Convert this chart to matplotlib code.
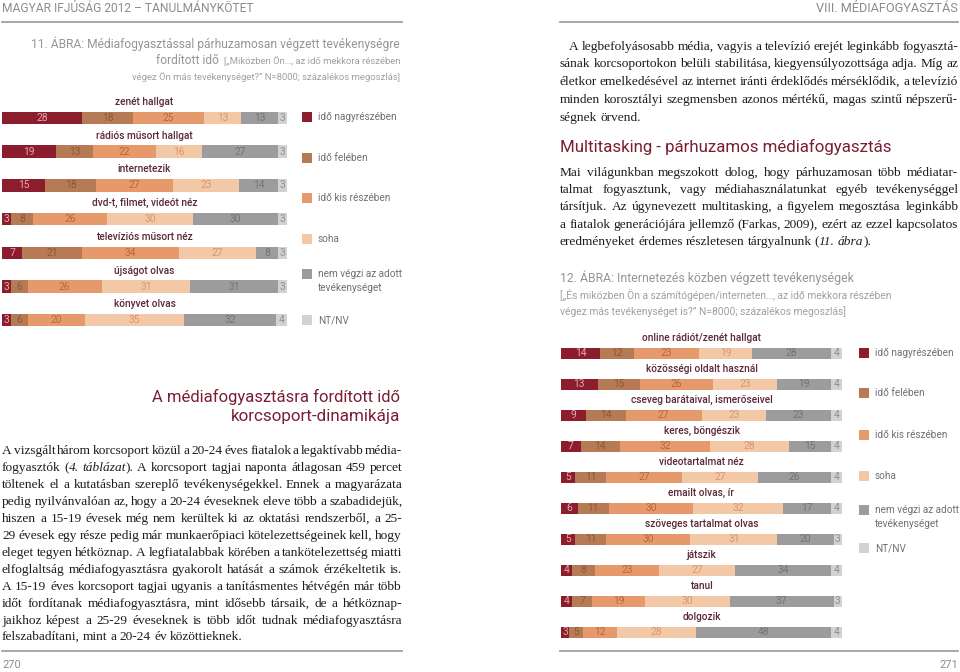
import matplotlib
matplotlib.use('Agg')
import matplotlib.pyplot as plt
from matplotlib.patches import Rectangle
from matplotlib.lines import Line2D
from matplotlib.textpath import TextToPath
from matplotlib.font_manager import FontProperties, fontManager, get_font
from matplotlib.backends.backend_agg import get_hinting_flag
import numpy as np

W, H = 960, 672
SANS = 'Roboto'
SERIF = 'Liberation Serif'

# answer categories shared by both charts
categories = ['idő nagyrészében', 'idő felében', 'idő kis részében', 'soha',
              'nem végzi az adott\ntevékenységet', 'NT/NV']
colors = ['#8c1d2d', '#b67a55', '#e6996a', '#f2c8a7', '#9c9c9e', '#d2d2d2']
num_colors = ['#e6a9ae', '#8d5838', '#b8683c', '#d9966a', '#747476', '#8f8f8f']

# 11. ábra
media_acts = ['zenét hallgat', 'rádiós műsort hallgat', 'internetezik',
              'dvd-t, filmet, videót néz', 'televíziós műsort néz',
              'újságot olvas', 'könyvet olvas']
media_most = [28, 19, 15, 3, 7, 3, 3]
media_half = [18, 13, 18, 8, 21, 6, 6]
media_small = [25, 22, 27, 26, 34, 26, 20]
media_never = [13, 16, 23, 30, 27, 31, 35]
media_notdo = [13, 27, 14, 30, 8, 31, 32]
media_na = [3, 3, 3, 3, 3, 3, 4]

# 12. ábra
net_acts = ['online rádiót/zenét hallgat', 'közösségi oldalt használ',
            'cseveg barátaival, ismerőseivel', 'keres, böngészik',
            'videotartalmat néz', 'emailt olvas, ír', 'szöveges tartalmat olvas',
            'játszik', 'tanul', 'dolgozik']
net_most = [14, 13, 9, 7, 5, 6, 5, 4, 4, 3]
net_half = [12, 15, 14, 14, 11, 11, 11, 8, 7, 5]
net_small = [23, 26, 27, 32, 27, 30, 30, 23, 19, 12]
net_never = [19, 23, 23, 28, 27, 32, 31, 27, 30, 28]
net_notdo = [28, 19, 23, 15, 26, 17, 20, 34, 37, 48]
net_na = [4, 4, 4, 4, 4, 4, 3, 4, 3, 4]

# page text (*...* = italic)
text_left = [
    'A vizsgált három korcsoport közül a 20-24 éves fiatalok a legaktívabb média-',
    'fogyasztók (*4. táblázat*). A korcsoport tagjai naponta átlagosan 459 percet',
    'töltenek el a kutatásban szereplő tevékenységekkel. Ennek a magyarázata',
    'pedig nyilvánvalóan az, hogy a 20-24 éveseknek eleve több a szabadidejük,',
    'hiszen a 15-19 évesek még nem kerültek ki az oktatási rendszerből, a 25-',
    '29 évesek egy része pedig már munkaerőpiaci kötelezettségeinek kell, hogy',
    'eleget tegyen hétköznap. A legfiatalabbak körében a tankötelezettség miatti',
    'elfoglaltság médiafogyasztásra gyakorolt hatását a számok érzékeltetik is.',
    'A 15-19 éves korcsoport tagjai ugyanis a tanításmentes hétvégén már több',
    'időt fordítanak médiafogyasztásra, mint idősebb társaik, de a hétköznap-',
    'jaikhoz képest a 25-29 éveseknek is több időt tudnak médiafogyasztásra',
    'felszabadítani, mint a 20-24 év közöttieknek.',
]
text_right1 = [
    'A legbefolyásosabb média, vagyis a televízió erejét leginkább fogyasztá-',
    'sának korcsoportokon belüli stabilitása, kiegyensúlyozottsága adja. Míg az',
    'életkor emelkedésével az internet iránti érdeklődés mérséklődik, a televízió',
    'minden korosztályi szegmensben azonos mértékű, magas szintű népszerű-',
    'ségnek örvend.',
]
text_right2 = [
    'Mai világunkban megszokott dolog, hogy párhuzamosan több médiatar-',
    'talmat fogyasztunk, vagy médiahasználatunkat egyéb tevékenységgel',
    'társítjuk. Az úgynevezett multitasking, a figyelem megosztása leginkább',
    'a fiatalok generációjára jellemző (Farkas, 2009), ezért az ezzel kapcsolatos',
    'eredményeket érdemes részletesen tárgyalnunk (*11. ábra*).',
]

fig = plt.figure(figsize=(9.6, 6.72), dpi=100)
TTP = TextToPath()


def fx(x):
    return x / W


def fy(y):
    return 1 - y / H


def path_width(s, family, fs, italic=False):
    # width in pixels
    fp = FontProperties(family=family, size=fs, style='italic' if italic else 'normal')
    w, h, d = TTP.get_text_width_height_descent(s, fp, ismath=False)
    return w * 100 / 72


def baseline_y(s, fs, italic, ytop):
    # Agg rounds each text's bitmap on its own, so words of one line can land
    # a pixel apart; pick a y that puts every word on the same baseline row
    try:
        fp = FontProperties(family=SERIF, size=fs, style='italic' if italic else 'normal')
        font = get_font(fontManager._find_fonts_by_props(fp))
        font.clear()
        font.set_size(fs, 100)
        font.set_text(s, 0, flags=get_hinting_flag())
        w, h = font.get_width_height()
        d = font.get_descent()
    except Exception:
        return ytop
    target = int(round(ytop))
    y = target + 1 / 128
    for _ in range(3):
        row = round(y + d / 64) - h // 64 + (h - d) // 64
        if row == target:
            break
        y += target - row
    return y


def hline(x0, x1, y):
    fig.add_artist(Line2D([fx(x0), fx(x1)], [fy(y), fy(y)], transform=fig.transFigure,
                          color='#a0a0a0', lw=1.3))


def fit_text(x0, x1, y, s, color, ha='left'):
    fs = round(10 * (x1 - x0) / path_width(s, SANS, 10), 2)
    return fig.text(fx(x0 if ha == 'left' else x1), fy(y), s, fontsize=fs, family=SANS,
                    color=color, ha=ha, va='center')


def parse_words(line):
    words, cur, buf, it = [], [], '', False
    for ch in line + ' ':
        if ch == '*':
            if buf:
                cur.append((buf, it))
                buf = ''
            it = not it
        elif ch == ' ':
            if buf:
                cur.append((buf, it))
                buf = ''
            if cur:
                words.append(cur)
                cur = []
        else:
            buf += ch
    return words


def body_size(paras, fs0=10):
    sp = path_width('n n', SERIF, fs0) - path_width('nn', SERIF, fs0)
    best = fs0
    for lines, x0, x1, indent in paras:
        for li, line in enumerate(lines[:-1]):
            words = parse_words(line)
            nat = sum(path_width(s, SERIF, fs0, it) for w in words for s, it in w)
            nat += 0.6 * sp * (len(words) - 1)
            avail = x1 - x0 - (indent if li == 0 else 0)
            best = min(best, fs0 * avail / nat)
    return round(best, 1)


def paragraph(lines, x0, x1, y0, lh, fs, indent=0, color='#1c1c1c'):
    # justified text, one text per word
    sp = path_width('n n', SERIF, fs) - path_width('nn', SERIF, fs)
    for li, line in enumerate(lines):
        ytop = y0 + li * lh + 4.5
        left = x0 + (indent if li == 0 else 0)
        words = parse_words(line)
        widths = [[path_width(s, SERIF, fs, it) for s, it in w] for w in words]
        tot = sum(sum(ws) for ws in widths)
        if li == len(lines) - 1:
            gap = sp
        else:
            gap = (x1 - left - tot) / (len(words) - 1)
        x = left
        for w, ws in zip(words, widths):
            xx = x
            for (s, it), sw in zip(w, ws):
                fig.text(fx(xx), fy(baseline_y(s, fs, it, ytop)), s, fontsize=fs,
                         family=SERIF, color=color, style='italic' if it else 'normal',
                         va='baseline')
                xx += sw
            x += sum(ws) + gap


def stacked(x0, x1, c0, pitch, labels, series, bar_px, lab_px):
    n = len(labels)
    top = c0 - pitch
    bottom = c0 + (n - 0.5) * pitch
    ax = fig.add_axes([fx(x0), fy(bottom), (x1 - x0) / W, (bottom - top) / H])
    y = np.arange(n)
    left = np.zeros(n)
    for k, vals in enumerate(series):
        vals = np.array(vals)
        ax.barh(y, vals, left=left, height=bar_px / pitch, color=colors[k], linewidth=0)
        for i in range(n):
            ax.text(left[i] + vals[i] / 2, y[i], str(vals[i]), ha='center', va='center',
                    color=num_colors[k], fontsize=7.4, family=SANS)
        left += vals
    for i, lab in enumerate(labels):
        ax.text(50, y[i] - lab_px / pitch, lab, ha='center', va='center', fontsize=7.3,
                family=SANS, weight='medium', color='#5a2838')
    ax.set_xlim(0, 100)
    ax.set_ylim(n - 0.5, -1)
    ax.axis('off')
    return ax


def legend(xs, ys):
    for lab, col, y in zip(categories, colors, ys):
        fig.add_artist(Rectangle((fx(xs), fy(y + 5)), 10 / W, 10 / H,
                                 transform=fig.transFigure, color=col, lw=0))
        for j, part in enumerate(lab.split('\n')):
            fig.text(fx(xs + 16), fy(y + j * 14), part, fontsize=7.2, family=SANS,
                     color='#707070', va='center')


gray = '#8c8c8c'
# page headers and footers
fit_text(2, 255, 8, 'MAGYAR IFJÚSÁG 2012 – TANULMÁNYKÖTET', gray)
fit_text(815, 958, 9, 'VIII. MÉDIAFOGYASZTÁS', gray, ha='right')
hline(2, 402, 22)
hline(560, 958, 22)
hline(2, 402, 651)
hline(560, 958, 651)
fig.text(fx(2), fy(665), '270', fontsize=8, family=SANS, color=gray, va='center')
fig.text(fx(958), fy(665), '271', fontsize=8, family=SANS, color=gray, va='center', ha='right')

# 11. ábra title
t1 = fit_text(30, 400, 44, '11. ÁBRA: Médiafogyasztással párhuzamosan végzett tevékenységre',
              '#959595', ha='right')
small = fit_text(223, 400, 61, '[„Miközben Ön…, az idő mekkora részében', '#a0a0a0', ha='right')
fig.text(fx(219), fy(61), 'fordított idő', fontsize=t1.get_fontsize(), family=SANS,
         color='#959595', ha='right', va='center')
fig.text(fx(400), fy(77), 'végez Ön más tevékenységet?” N=8000; százalékos megoszlás]',
         fontsize=small.get_fontsize(), family=SANS, color='#a0a0a0', ha='right', va='center')

stacked(2, 287, 118, 33.7, media_acts,
        [media_most, media_half, media_small, media_never, media_notdo, media_na], 12.5, 16)
legend(302, [117, 158, 198, 239, 274, 320])

# left subheading + text
fit_text(152, 400, 397, 'A médiafogyasztásra fordított idő', '#7b1e33', ha='right')
fit_text(230, 400, 417, 'korcsoport-dinamikája', '#7b1e33', ha='right')

fs_body = body_size([(text_left, 2, 402, 0), (text_right1, 560, 958, 9),
                     (text_right2, 560, 958, 0)])
paragraph(text_left, 2, 402, 450, 16.9, fs_body)
paragraph(text_right1, 560, 958, 45, 17.8, fs_body, indent=9)
fit_text(560, 892, 147, 'Multitasking - párhuzamos médiafogyasztás', '#7b1e33')
paragraph(text_right2, 560, 958, 171, 17.4, fs_body)

# 12. ábra title
fit_text(560, 853, 278, '12. ÁBRA: Internetezés közben végzett tevékenységek', '#959595')
s2 = fit_text(560, 892, 295, '[„És miközben Ön a számítógépen/interneten…, az idő mekkora részében',
              '#a0a0a0')
fig.text(fx(560), fy(312), 'végez más tevékenységet is?” N=8000; százalékos megoszlás]',
         fontsize=s2.get_fontsize(), family=SANS, color='#a0a0a0', va='center')

stacked(561, 842, 353, 31.0, net_acts,
        [net_most, net_half, net_small, net_never, net_notdo, net_na], 11, 15)
legend(859, [353, 393, 435, 476, 510, 548])

fig.savefig('out.png', dpi=100)
